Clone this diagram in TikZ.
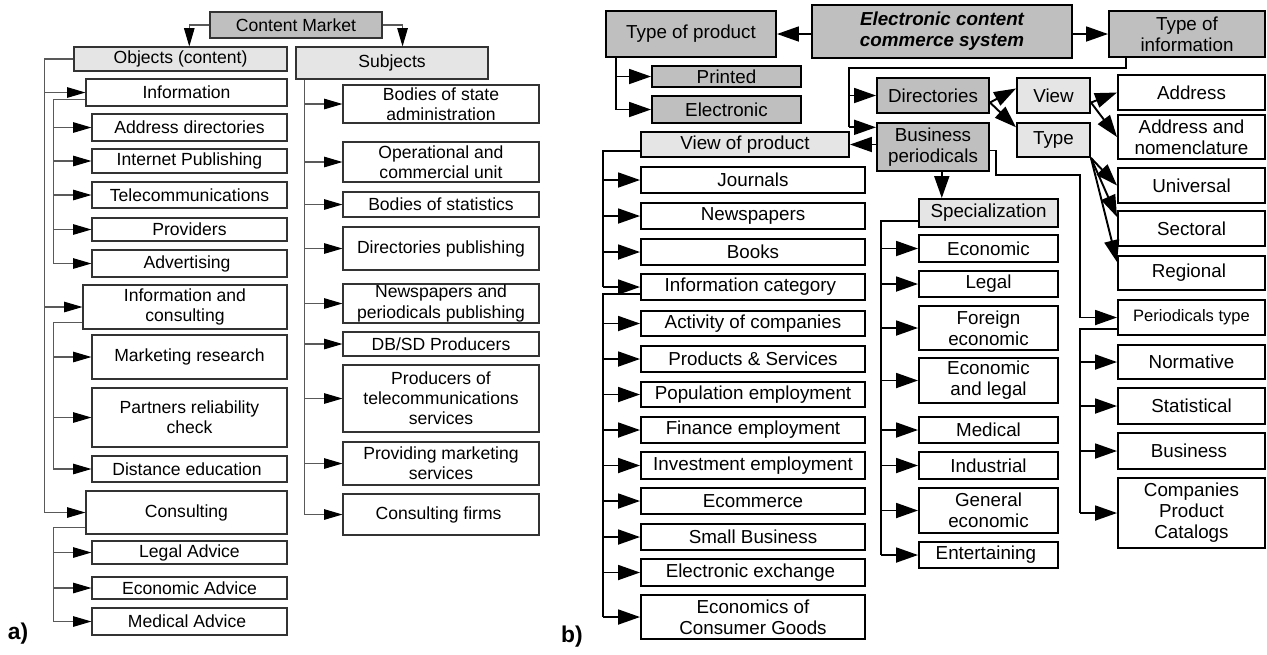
\documentclass[tikz,border=0pt]{standalone}
\usepackage{fontspec}
\setmainfont{Liberation Sans}
\usetikzlibrary{arrows.meta}
\usetikzlibrary{positioning}

\begin{document}
\begin{tikzpicture}[
        x=0.02cm, y=-0.02cm,
        boxa/.style={draw=black!80, line width=0.6pt, fill=white, inner sep=0pt, align=center,
            font=\fontsize{10}{11.5}\selectfont},
        boxb/.style={draw=black, line width=1.1pt, fill=white, inner sep=0pt, align=center,
            font=\fontsize{10.7}{12}\selectfont},
        dark/.style={fill=black!25},
        light/.style={fill=black!10},
        linea/.style={draw=black!65, line width=0.6pt},
        arra/.style={linea, -{Triangle[length=10.5pt,width=6pt,color=black]}},
        lineb/.style={draw=black, line width=1.1pt},
        arrb/.style={lineb, -{Triangle[length=12.5pt,width=8.5pt]}},
        tag/.style={font=\fontsize{13}{15}\selectfont\bfseries}
    ]
        \useasboundingbox (0,0) rectangle (1267,654);

        % ---------- a) content market ----------
        \node[boxa, dark, minimum width={172*0.02cm}, minimum height={26*0.02cm}] (cm) at (296,25) {Content Market};
        \node[boxa, light, minimum width={213*0.02cm}, minimum height={24*0.02cm}] (obj) at (180.5,59) {Objects (content)};
        \node[boxa, light, minimum width={192*0.02cm}, minimum height={32*0.02cm}] (subj) at (392,63) {Subjects};
        \draw[arra] (cm.west) -| ([xshift=5pt]obj.north);
        \draw[arra] (cm.east) -| ([xshift=6pt]subj.north);

        % object groups
        \node[boxa, minimum width={201*0.02cm}, minimum height={27*0.02cm}] (info) at (186.5,92.5) {Information};
        \node[boxa, minimum width={204*0.02cm}, minimum height={44*0.02cm}] (infc) at (185,307) {Information and\\consulting};
        \node[boxa, minimum width={201*0.02cm}, minimum height={43*0.02cm}] (cons) at (186.5,512.5) {Consulting};

        \path (obj.west) ++(-29,0) coordinate (ta);
        \draw[linea] (obj.west) -- (ta) -- (ta |- cons.west);
        \foreach \nm in {info, infc, cons}
            \draw[arra] (ta |- \nm.west) -- (\nm.west);

        % information
        \path ([yshift=4pt]info.south west) ++(-32,0) coordinate (tb);
        \foreach \nm/\ytop/\ybot/\txt in {
            adir/114/141/Address directories,
            ipub/149/173/Internet Publishing,
            tele/182/208/Telecommunications,
            prov/218/241/Providers,
            adv/250/277/Advertising
        } {
            \node[boxa, minimum width={195*0.02cm}, minimum height={(\ybot-\ytop)*0.02cm}] (\nm) at (189.5,{(\ytop+\ybot)/2}) {\txt};
            \draw[arra] (tb |- \nm.west) -- (\nm.west);
        }
        \draw[linea] ([yshift=4pt]info.south west) -- (tb) -- (tb |- adv.west);

        % information and consulting
        \path ([yshift=4pt]infc.south west) ++(-29,0) coordinate (tc);
        \foreach \nm/\ytop/\ybot/\txt in {
            mres/335/379/Marketing research,
            prc/388/447/{Partners reliability\\check},
            dist/456/482/Distance education
        } {
            \node[boxa, minimum width={195*0.02cm}, minimum height={(\ybot-\ytop)*0.02cm}] (\nm) at (189.5,{(\ytop+\ybot)/2}) {\txt};
            \draw[arra] (tc |- \nm.west) -- (\nm.west);
        }
        \draw[linea] ([yshift=4pt]infc.south west) -- (tc) -- (tc |- dist.west);

        % consulting
        \path ([yshift=4pt]cons.south west) ++(-32,0) coordinate (td);
        \foreach \nm/\ytop/\ybot/\txt in {
            legadv/541/564/Legal Advice,
            ecadv/577/599/Economic Advice,
            medadv/608/635/Medical Advice
        } {
            \node[boxa, minimum width={195*0.02cm}, minimum height={(\ybot-\ytop)*0.02cm}] (\nm) at (189.5,{(\ytop+\ybot)/2}) {\txt};
            \draw[arra] (td |- \nm.west) -- (\nm.west);
        }
        \draw[linea] ([yshift=4pt]cons.south west) -- (td) -- (td |- medadv.west);

        % subjects
        \path ([xshift=5pt]subj.south west) coordinate (ts);
        \foreach \nm/\ytop/\ybot/\txt in {
            bsa/85/123/{Bodies of state\\administration},
            ocu/142/182/{Operational and\\commercial unit},
            bst/192/217/Bodies of statistics,
            dpub/227/270/Directories publishing,
            npub/284/323/{Newspapers and\\periodicals publishing},
            dbsd/332/356/{DB/SD Producers},
            ptel/365/432/{Producers of\\telecommunications\\services},
            pms/442/485/{Providing marketing\\services},
            cfirm/494/535/Consulting firms
        } {
            \node[boxa, minimum width={196*0.02cm}, minimum height={(\ybot-\ytop)*0.02cm}] (\nm) at (441,{(\ytop+\ybot)/2}) {\txt};
            \draw[arra] (ts |- \nm.west) -- (\nm.west);
        }
        \draw[linea] (ts) -- (ts |- cfirm.west);

        \node[tag] (la) at (18,634) {a)};

        % ---------- b) electronic content commerce ----------
        \node[boxb, dark, minimum width={260*0.02cm}, minimum height={53*0.02cm}, font=\fontsize{10.7}{12}\selectfont\bfseries\itshape] (ecc) at (942,31.5) {Electronic content\\commerce system};
        \node[boxb, dark, minimum width={170*0.02cm}, minimum height={46*0.02cm}] (tp) at (691,34) {Type of product};
        \node[boxb, dark, minimum width={156*0.02cm}, minimum height={46*0.02cm}] (ti) at (1187,34) {Type of\\information};
        \draw[arrb] (ecc.west |- tp.east) -- (tp.east);
        \draw[arrb] (ecc.east |- ti.west) -- (ti.west);

        % type of product
        \node[boxb, dark, minimum width={149*0.02cm}, minimum height={21*0.02cm}] (prt) at (726.5,76.5) {Printed};
        \node[boxb, dark, minimum width={149*0.02cm}, minimum height={27*0.02cm}] (elec) at (726.5,109.5) {Electronic};
        \path ([xshift=6pt]tp.south west) coordinate (tpt);
        \draw[arrb] (tpt) |- (elec.west);
        \draw[arrb] (tpt |- prt.west) -- (prt.west);

        % type of information
        \node[boxb, dark, minimum width={112*0.02cm}, minimum height={35*0.02cm}] (dir) at (933,95.5) {Directories};
        \node[boxb, dark, minimum width={112*0.02cm}, minimum height={48*0.02cm}] (bper) at (933,147) {Business\\periodicals};
        \coordinate (tt) at (849,68);
        \coordinate (bpin) at ([yshift=-3pt]bper.north west);
        \draw[lineb] ([xshift=10pt]ti.south west) |- (tt) -- (tt |- bpin);
        \draw[arrb] (tt |- dir.west) -- (dir.west);
        \draw[arrb] (tt |- bpin) -- (bpin);

        % directories
        \node[boxb, light, minimum width={73*0.02cm}, minimum height={35*0.02cm}] (view) at (1053.5,95.5) {View};
        \node[boxb, light, minimum width={73*0.02cm}, minimum height={34*0.02cm}] (type) at (1053.5,140) {Type};
        \draw[arrb] ([yshift=-4pt]dir.east) -- ([yshift=4pt]view.west);
        \draw[arrb] ([yshift=-4pt]dir.east) -- ([yshift=-3pt]type.north west);
        \node[boxb, minimum width={147*0.02cm}, minimum height={44*0.02cm}] (addrn) at (1191.5,137) {Address and\\nomenclature};
        \foreach \nm/\ytop/\ybot/\txt in {
            addr/75/110/Address,
            univ/168/203/Universal,
            sect/211/246/Sectoral,
            reg/256/290/Regional
        } {
            \node[boxb, minimum width={147*0.02cm}, minimum height={(\ybot-\ytop)*0.02cm}] (\nm) at (1191.5,{(\ytop+\ybot)/2}) {\txt};
        }
        \draw[arrb] ([yshift=-4pt]view.east) -- (addr.west);
        \draw[arrb] ([yshift=-4pt]view.east) -- (addrn.west);
        \draw[arrb] (type.south east) -- (univ.west);
        \draw[arrb] (type.south east) -- ([yshift=-4pt]sect.north west);
        \draw[arrb] (type.south east) -- ([yshift=-4pt]reg.north west);

        % view of product
        \node[boxb, light, minimum width={208*0.02cm}, minimum height={25*0.02cm}] (vop) at (745,144.5) {View of product};
        \draw[arrb] (bper.west |- vop.east) -- (vop.east);
        \path ([yshift=4pt]vop.south west) ++(-37,0) coordinate (tv);
        \foreach \nm/\ytop/\ybot/\txt in {
            jour/167/193/Journals,
            news/203/229/Newspapers,
            books/239/265/Books,
            icat/274/300/Information category
        } {
            \node[boxb, minimum width={224*0.02cm}, minimum height={(\ybot-\ytop)*0.02cm}] (\nm) at (753,{(\ytop+\ybot)/2}) {\txt};
            \draw[arrb] (tv |- \nm.west) -- (\nm.west);
        }
        \draw[lineb] ([yshift=4pt]vop.south west) -- (tv) -- (tv |- icat.west);

        % information category
        \path ([yshift=4pt]icat.south west) ++(-37,0) coordinate (tcat);
        \node[boxb, minimum width={224*0.02cm}, minimum height={26*0.02cm}] (prod) at (753,359) {Products \& Services};
        \node[boxb, minimum width={224*0.02cm}, minimum height={44*0.02cm}] (ecg) at (753,617) {Economics of\\Consumer Goods};
        \foreach \nm/\ytop/\ybot/\txt in {
            act/311/336/Activity of companies,
            pop/382/407/Population employment,
            fin/417/443/Finance employment,
            inv/452/479/Investment employment,
            ecom/488/514/Ecommerce,
            sbus/524/550/Small Business,
            exch/559/586/Electronic exchange
        } {
            \node[boxb, minimum width={224*0.02cm}, minimum height={(\ybot-\ytop)*0.02cm}] (\nm) at (753,{(\ytop+\ybot)/2}) {\txt};
        }
        \foreach \nm in {act, prod, pop, fin, inv, ecom, sbus, exch, ecg}
            \draw[arrb] (tcat |- \nm.west) -- (\nm.west);
        \draw[lineb] ([yshift=4pt]icat.south west) -- (tcat) -- (tcat |- ecg.west);

        % specialization
        \node[boxb, light, minimum width={139*0.02cm}, minimum height={28*0.02cm}] (spec) at (988.5,213) {Specialization};
        \draw[arrb] ([xshift=5pt]bper.south) -- ([xshift=5pt]bper.south |- spec.north);
        \path ([yshift=4pt]spec.south west) ++(-37,0) coordinate (tsp);
        \foreach \nm/\ytop/\ybot/\txt in {
            seco/235/262/Economic,
            slegal/271/297/Legal,
            sfor/306/350/{Foreign\\economic},
            sel/358/403/{Economic\\and legal},
            smed/417/443/Medical,
            sind/452/479/Industrial,
            sgen/488/533/{General\\economic},
            sent/542/568/Entertaining
        } {
            \node[boxb, minimum width={139*0.02cm}, minimum height={(\ybot-\ytop)*0.02cm}] (\nm) at (988.5,{(\ytop+\ybot)/2}) {\txt};
            \draw[arrb] (tsp |- \nm.west) -- (\nm.west);
        }
        \draw[lineb] ([yshift=4pt]spec.south west) -- (tsp) -- (tsp |- sent.west);

        % periodicals type
        \node[boxb, minimum width={147*0.02cm}, minimum height={35*0.02cm}, font=\fontsize{9.4}{11}\selectfont] (ptype) at (1191.5,317.5) {Periodicals type};
        \coordinate (pbend) at (1080,175);
        \draw[arrb] ([yshift=-2pt]bper.east) -- ++(6,0) |- (pbend) |- (ptype.west);
        \path ([yshift=4pt]ptype.south west) ++(-37,0) coordinate (tpy);
        \node[boxb, minimum width={147*0.02cm}, minimum height={70*0.02cm}] (cat) at (1191.5,513) {Companies\\Product\\Catalogs};
        \foreach \nm/\ytop/\ybot/\txt in {
            norm/345/379/Normative,
            stat/388/424/Statistical,
            bus/433/469/Business
        } {
            \node[boxb, minimum width={147*0.02cm}, minimum height={(\ybot-\ytop)*0.02cm}] (\nm) at (1191.5,{(\ytop+\ybot)/2}) {\txt};
        }
        \foreach \nm in {norm, stat, bus, cat}
            \draw[arrb] (tpy |- \nm.west) -- (\nm.west);
        \draw[lineb] ([yshift=4pt]ptype.south west) -- (tpy) -- (tpy |- cat.west);

        \node[tag] (lb) at (572,637) {b)};
    \end{tikzpicture}
\end{document}
